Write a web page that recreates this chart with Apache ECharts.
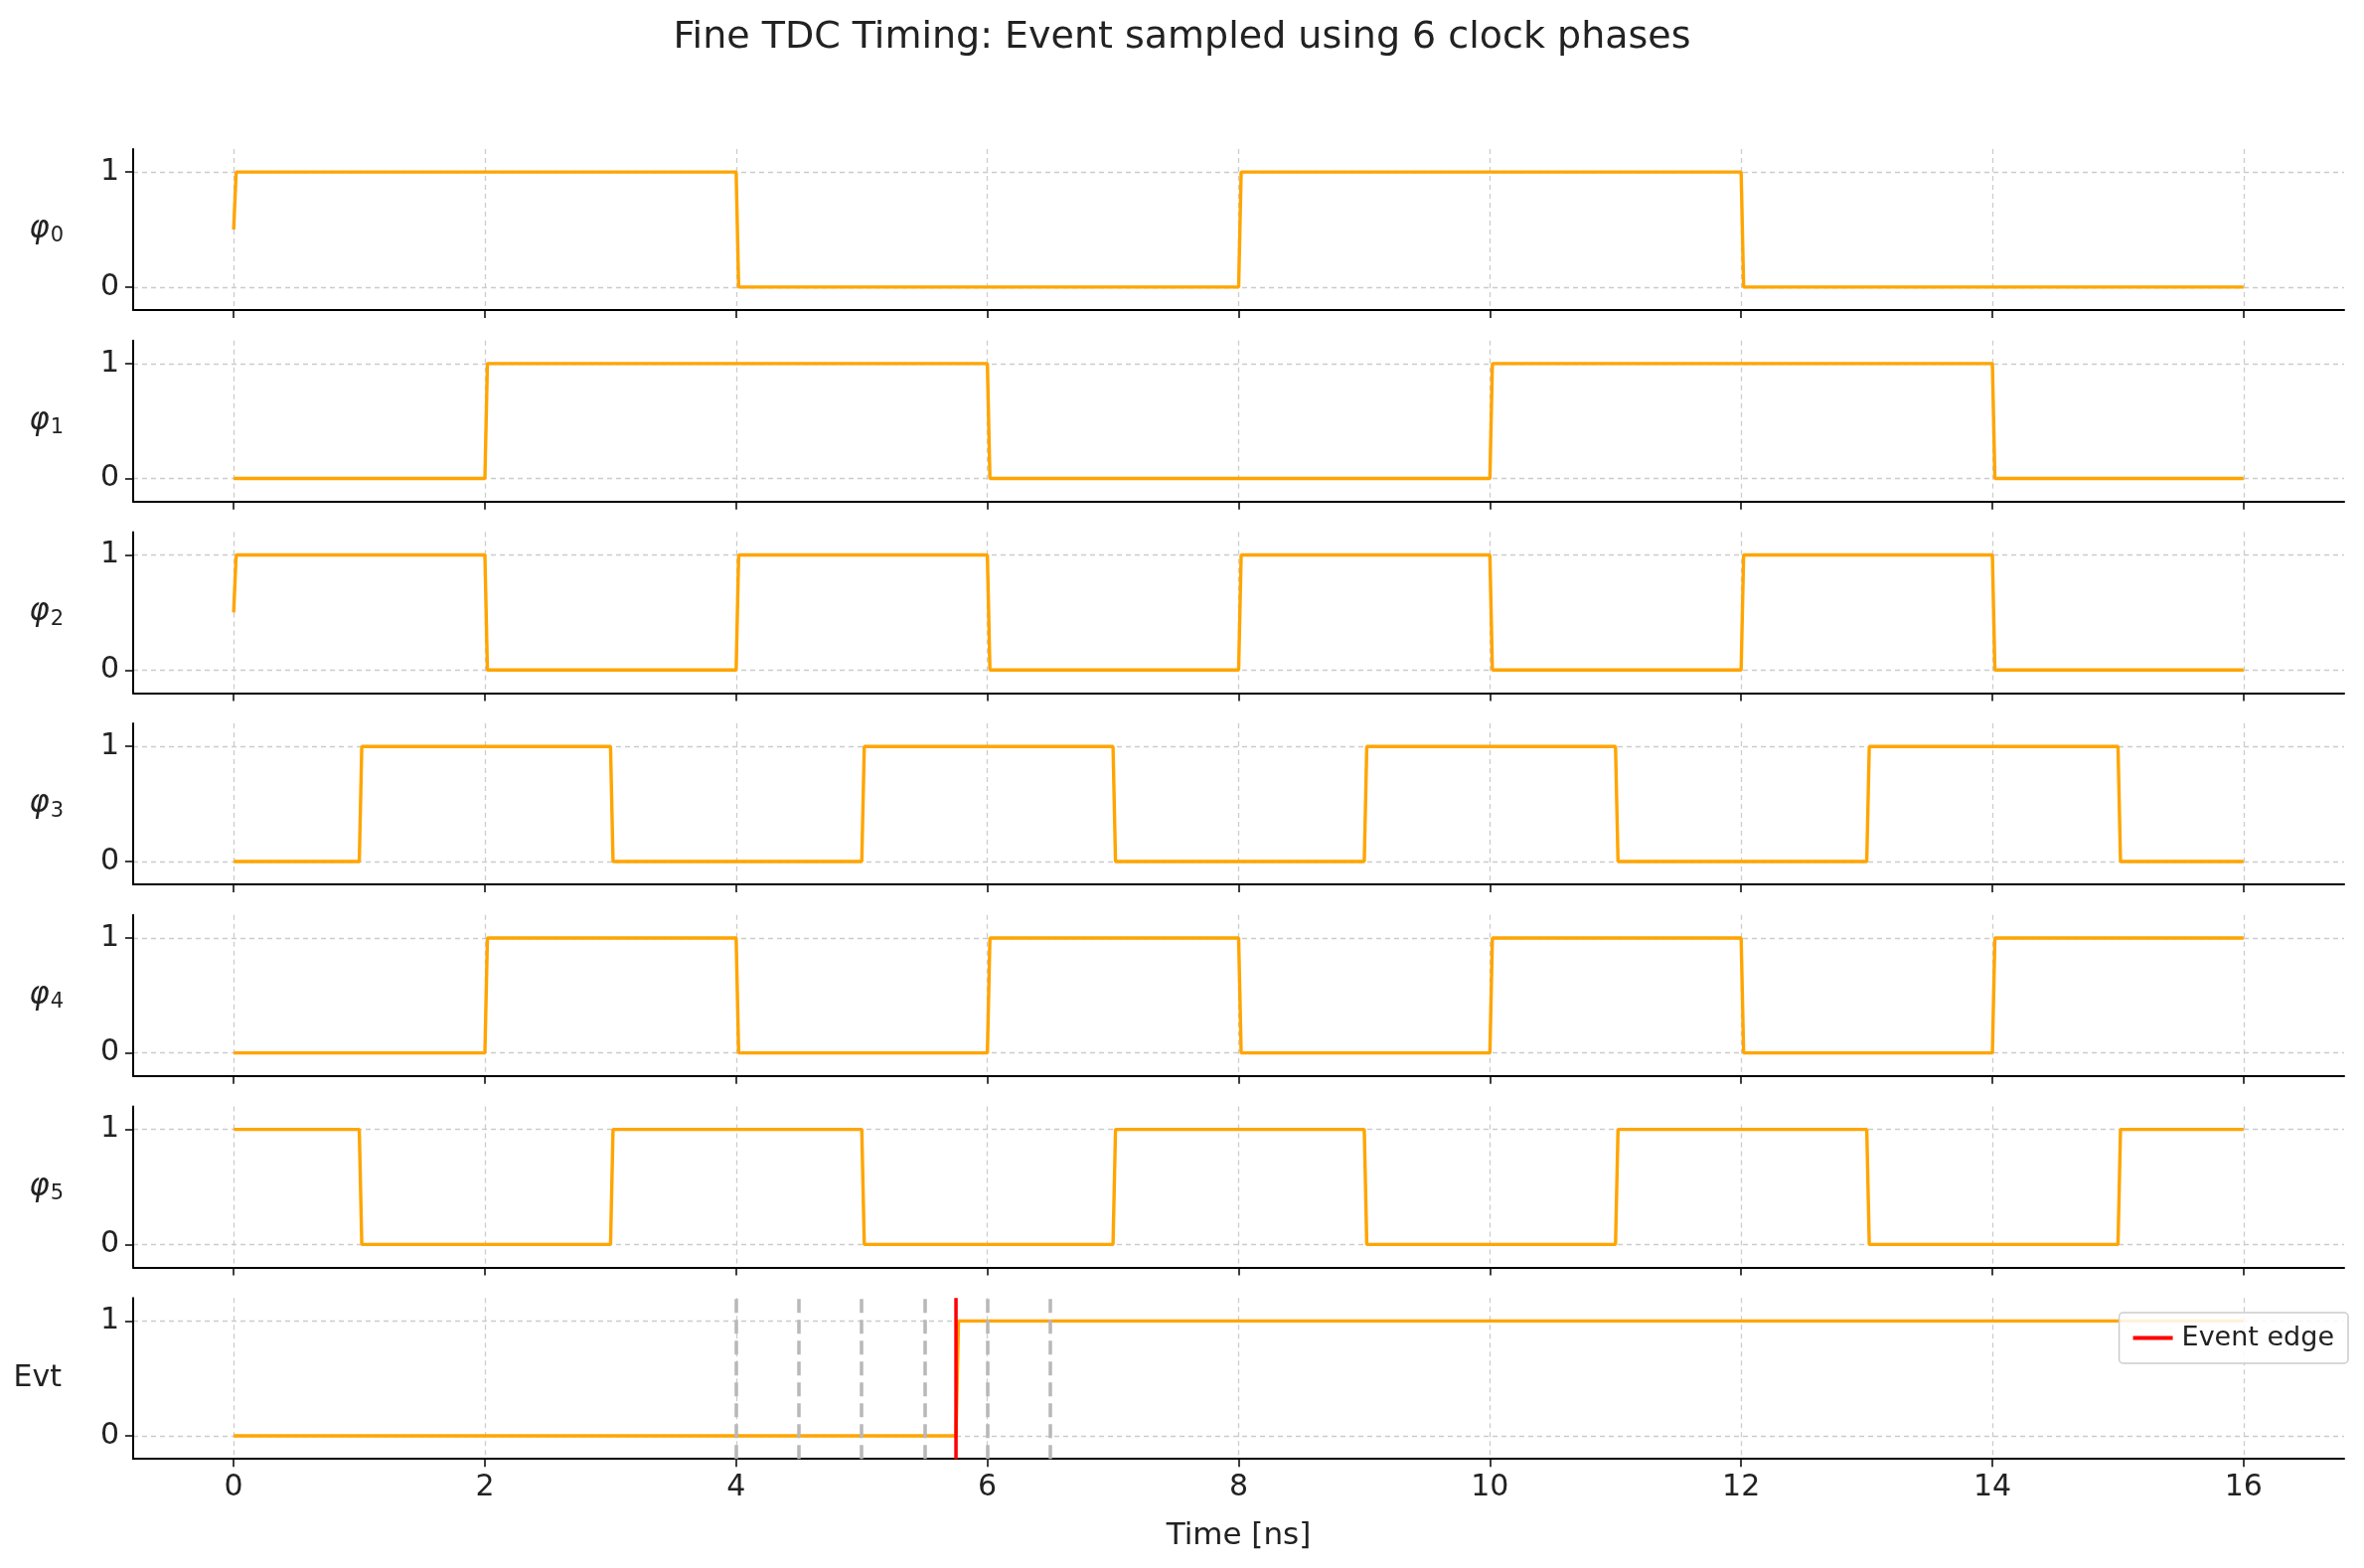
<!DOCTYPE html>
<html><head><meta charset="utf-8">
<script src="https://cdn.jsdelivr.net/npm/echarts@6/dist/echarts.min.js"></script>
<style>html,body{margin:0;padding:0;background:#fff}#c{width:2379px;height:1578px}</style>
</head><body><div id="c"></div>
<script>
const xTicks = [0,2,4,6,8,10,12,14,16];
const phaseNames = ['{p|φ}{s|0}','{p|φ}{s|1}','{p|φ}{s|2}','{p|φ}{s|3}','{p|φ}{s|4}','{p|φ}{s|5}','Evt'];
const phi0 = [[0,0.5],[0.02,1],[4,1],[4.02,0],[8,0],[8.02,1],[12,1],[12.02,0],[16,0]];
const phi1 = [[0,0],[2,0],[2.02,1],[6,1],[6.02,0],[10,0],[10.02,1],[14,1],[14.02,0],[16,0]];
const phi2 = [[0,0.5],[0.02,1],[2,1],[2.02,0],[4,0],[4.02,1],[6,1],[6.02,0],[8,0],[8.02,1],[10,1],[10.02,0],[12,0],[12.02,1],[14,1],[14.02,0],[16,0]];
const phi3 = [[0,0],[1,0],[1.02,1],[3,1],[3.02,0],[5,0],[5.02,1],[7,1],[7.02,0],[9,0],[9.02,1],[11,1],[11.02,0],[13,0],[13.02,1],[15,1],[15.02,0],[16,0]];
const phi4 = [[0,0],[2,0],[2.02,1],[4,1],[4.02,0],[6,0],[6.02,1],[8,1],[8.02,0],[10,0],[10.02,1],[12,1],[12.02,0],[14,0],[14.02,1],[16,1]];
const phi5 = [[0,1],[1,1],[1.02,0],[3,0],[3.02,1],[5,1],[5.02,0],[7,0],[7.02,1],[9,1],[9.02,0],[11,0],[11.02,1],[13,1],[13.02,0],[15,0],[15.02,1],[16,1]];
const evt = [[0,0],[5.75,0],[5.77,1],[16,1]];
const eventTime = 5.75;
const sampleTimes = [4,4.5,5,5.5,6,6.5];
const signals = [phi0,phi1,phi2,phi3,phi4,phi5,evt];

const chart = echarts.init(document.getElementById('c'));
const grids=[],xAxes=[],yAxes=[],series=[];
const gridLine={show:true,lineStyle:{color:'#cccccc',type:[5,4],width:1.3}};
for(let i=0;i<7;i++){
  grids.push({left:134,width:2225,top:150+i*192.7,height:162});
  xAxes.push({type:'value',gridIndex:i,min:-0.8,max:16.8,interval:2,
    axisLine:{onZero:false,lineStyle:{color:'#000',width:2}},
    axisTick:{show:true,length:8,lineStyle:{color:'#000',width:1.5},customValues:xTicks},
    axisLabel:{show:i===6,fontSize:30,color:'#222',margin:14,customValues:xTicks,fontFamily:'DejaVu Sans'},
    splitLine:gridLine,
    name:i===6?'Time [ns]':'',nameLocation:'middle',nameGap:62,nameTextStyle:{fontSize:31,color:'#222',fontFamily:'DejaVu Sans'}});
  yAxes.push({type:'value',gridIndex:i,min:-0.2,max:1.2,
    axisLine:{show:true,onZero:false,lineStyle:{color:'#000',width:2}},
    axisTick:{show:true,length:8,lineStyle:{color:'#000',width:1.5},customValues:[0,1]},
    axisLabel:{fontSize:30,color:'#222',margin:14,customValues:[0,1],fontFamily:'DejaVu Sans'},
    splitLine:{show:true,lineStyle:gridLine.lineStyle},
    name:phaseNames[i],nameLocation:'middle',nameRotate:0,nameGap:i===6?72:70,
    nameTextStyle:{fontSize:30,color:'#222',fontFamily:'DejaVu Sans',
      rich:{p:{fontSize:31,fontStyle:'italic',color:'#222',fontFamily:'DejaVu Sans'},
            s:{fontSize:21,color:'#222',fontFamily:'DejaVu Sans',padding:[14,0,0,1]}}}});
  const s={type:'line',xAxisIndex:i,yAxisIndex:i,data:signals[i],symbol:'none',
    lineStyle:{color:'#FFA500',width:3.4},itemStyle:{color:'#FFA500'},z:3,silent:true};
  if(i===6){
    s.markLine={silent:true,symbol:'none',label:{show:false},
      lineStyle:{color:'#b8b8b8',type:[14,7],width:3.5},
      data:sampleTimes.map(t=>({xAxis:t}))};
  }
  series.push(s);
}
series.push({name:'Event edge',type:'line',xAxisIndex:6,yAxisIndex:6,
  data:[[eventTime,-0.2],[eventTime,1.2]],symbol:'none',
  lineStyle:{color:'#ff0000',width:3.5},itemStyle:{color:'#ff0000'},z:5,silent:true});
chart.setOption({
  animation:false,
  title:{text:'Fine TDC Timing: Event sampled using 6 clock phases',left:'center',top:14,
    textStyle:{fontSize:38,fontWeight:'normal',color:'#222',fontFamily:'DejaVu Sans'}},
  legend:{data:[{name:'Event edge',icon:'path://M0,0H10V1H0Z'}],right:16,top:1321,
    itemWidth:48,itemHeight:4,itemGap:14,
    textStyle:{fontSize:27,color:'#222',fontFamily:'DejaVu Sans'},
    backgroundColor:'rgba(255,255,255,0.85)',borderColor:'#ccc',borderWidth:1.5,borderRadius:4,padding:[12,14]},
  grid:grids,xAxis:xAxes,yAxis:yAxes,series:series
});
</script></body></html>
